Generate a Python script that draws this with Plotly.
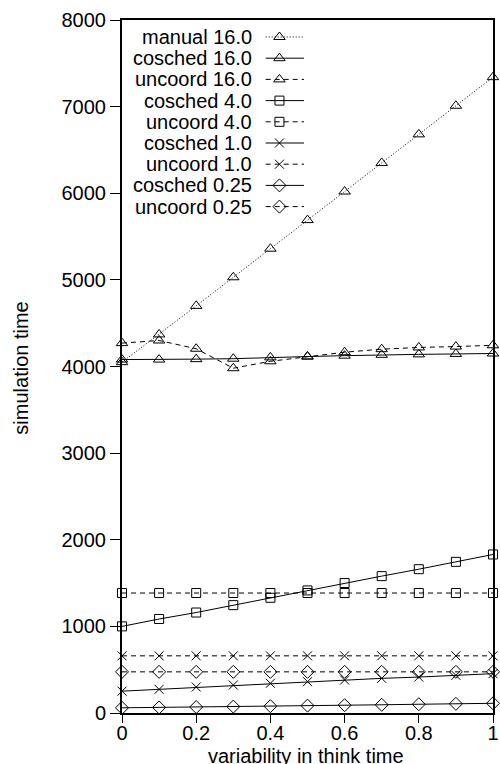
import plotly.graph_objects as go

# ---------------- data ----------------
x = [0.0, 0.1, 0.2, 0.3, 0.4, 0.5, 0.6, 0.7, 0.8, 0.9, 1.0]
manual_16 = [4050, 4370, 4700, 5030, 5360, 5690, 6020, 6350, 6680, 7010, 7340]
cosched_16 = [4080, 4080, 4085, 4090, 4105, 4115, 4125, 4135, 4140, 4145, 4150]
uncoord_16 = [4270, 4300, 4205, 3980, 4060, 4115, 4165, 4200, 4220, 4230, 4245]
cosched_4 = [1000, 1085, 1160, 1245, 1330, 1415, 1500, 1580, 1660, 1745, 1830]
uncoord_4 = [1385, 1385, 1385, 1385, 1385, 1385, 1385, 1385, 1385, 1385, 1385]
cosched_1 = [252, 273, 300, 323, 343, 362, 381, 400, 415, 435, 454]
uncoord_1 = [660, 660, 660, 660, 660, 660, 660, 660, 660, 660, 660]
cosched_025 = [60, 64, 69, 74, 79, 85, 90, 95, 101, 106, 112]
uncoord_025 = [475, 475, 475, 475, 475, 475, 475, 475, 475, 475, 475]

series_names = ["manual 16.0", "cosched 16.0", "uncoord 16.0", "cosched 4.0",
                "uncoord 4.0", "cosched 1.0", "uncoord 1.0", "cosched 0.25",
                "uncoord 0.25"]
series_values = [manual_16, cosched_16, uncoord_16, cosched_4, uncoord_4,
                 cosched_1, uncoord_1, cosched_025, uncoord_025]

x_ticks = [0, 0.2, 0.4, 0.6, 0.8, 1]
x_tick_labels = ["0", "0.2", "0.4", "0.6", "0.8", "1"]
y_ticks = [0, 1000, 2000, 3000, 4000, 5000, 6000, 7000, 8000]

x_title = "variability in think time"
y_title = "simulation time"

# ---------------- styles ----------------
DOT = "1px,2px"
DASH = "5px,4px"
styles = [
    dict(dash=DOT, symbol="triangle-up-open", size=10),
    dict(dash="solid", symbol="triangle-up-open", size=10),
    dict(dash=DASH, symbol="triangle-up-open", size=10),
    dict(dash="solid", symbol="square-open", size=9),
    dict(dash=DASH, symbol="square-open", size=9),
    dict(dash="solid", symbol="x-thin-open", size=9),
    dict(dash=DASH, symbol="x-thin-open", size=9),
    dict(dash="solid", symbol="diamond-open", size=10),
    dict(dash=DASH, symbol="diamond-open", size=10),
]

W, H = 500, 764
PL, PR, PT, PB = 122, 499, 20, 713
FONT = "Liberation Sans, Arial, Helvetica, sans-serif"

fig = go.Figure()

for name, vals, st in zip(series_names, series_values, styles):
    fig.add_trace(go.Scatter(
        x=x, y=vals, name=name, mode="lines+markers",
        line=dict(color="black", width=1, dash=st["dash"]),
        marker=dict(symbol=st["symbol"], size=st["size"], color="black",
                    line=dict(color="black", width=1)),
        cliponaxis=False, showlegend=False,
    ))

# ---------------- custom gnuplot-style key ----------------
def px_to_paper_x(px):
    return (px - PL) / (PR - PL)

def px_to_paper_y(py):
    return (PB - py) / (PB - PT)

KEY_TEXT_RIGHT = 256
KEY_LINE_L, KEY_LINE_R, KEY_MARK = 268, 307, 282
KEY_ROW0, KEY_ROW_STEP = 37, 21.2

for i, (name, st) in enumerate(zip(series_names, styles)):
    ry = KEY_ROW0 + i * KEY_ROW_STEP
    fig.add_annotation(
        x=px_to_paper_x(KEY_TEXT_RIGHT), y=px_to_paper_y(ry),
        xref="paper", yref="paper", xanchor="right", yanchor="middle",
        text=name, showarrow=False,
        font=dict(family=FONT, size=20, color="black"),
    )
    fig.add_trace(go.Scatter(
        x=[px_to_paper_x(KEY_LINE_L), px_to_paper_x(KEY_LINE_R)],
        y=[px_to_paper_y(ry)] * 2, mode="lines",
        line=dict(color="black", width=1, dash=st["dash"]),
        xaxis="x2", yaxis="y2", showlegend=False, hoverinfo="skip",
    ))
    fig.add_trace(go.Scatter(
        x=[px_to_paper_x(KEY_MARK)], y=[px_to_paper_y(ry)], mode="markers",
        marker=dict(symbol=st["symbol"], size=st["size"], color="black",
                    line=dict(color="black", width=1)),
        xaxis="x2", yaxis="y2", showlegend=False, hoverinfo="skip",
        cliponaxis=False,
    ))

# axis titles
fig.add_annotation(
    x=px_to_paper_x(309), y=px_to_paper_y(756), xref="paper", yref="paper",
    xanchor="center", yanchor="middle", text=x_title, showarrow=False,
    font=dict(family=FONT, size=20, color="black"),
)
fig.add_annotation(
    x=px_to_paper_x(19), y=px_to_paper_y(368), xref="paper", yref="paper",
    xanchor="center", yanchor="middle", text=y_title, showarrow=False,
    textangle=-90, font=dict(family=FONT, size=20, color="black"),
)

axis_common = dict(showgrid=False, zeroline=False, showline=True, mirror=True,
                   linecolor="black", linewidth=2, ticks="outside",
                   tickcolor="black", tickwidth=1,
                   tickfont=dict(family=FONT, size=20, color="black"))

fig.update_layout(
    width=W, height=H,
    margin=dict(l=PL, r=W - PR, t=PT, b=H - PB, pad=0),
    paper_bgcolor="white", plot_bgcolor="white",
    xaxis=dict(range=[0, 1], tickvals=x_ticks, ticktext=x_tick_labels,
               ticklen=8, ticklabelstandoff=-7, ticklabeloverflow="allow",
               **axis_common),
    yaxis=dict(range=[0, 8000], tickvals=y_ticks, ticklen=10,
               ticklabeloverflow="allow", **axis_common),
    xaxis2=dict(range=[0, 1], overlaying="x", visible=False, fixedrange=True),
    yaxis2=dict(range=[0, 1], overlaying="y", visible=False, fixedrange=True),
    font=dict(family=FONT, size=20, color="black"),
)

fig.write_html("out.html")
